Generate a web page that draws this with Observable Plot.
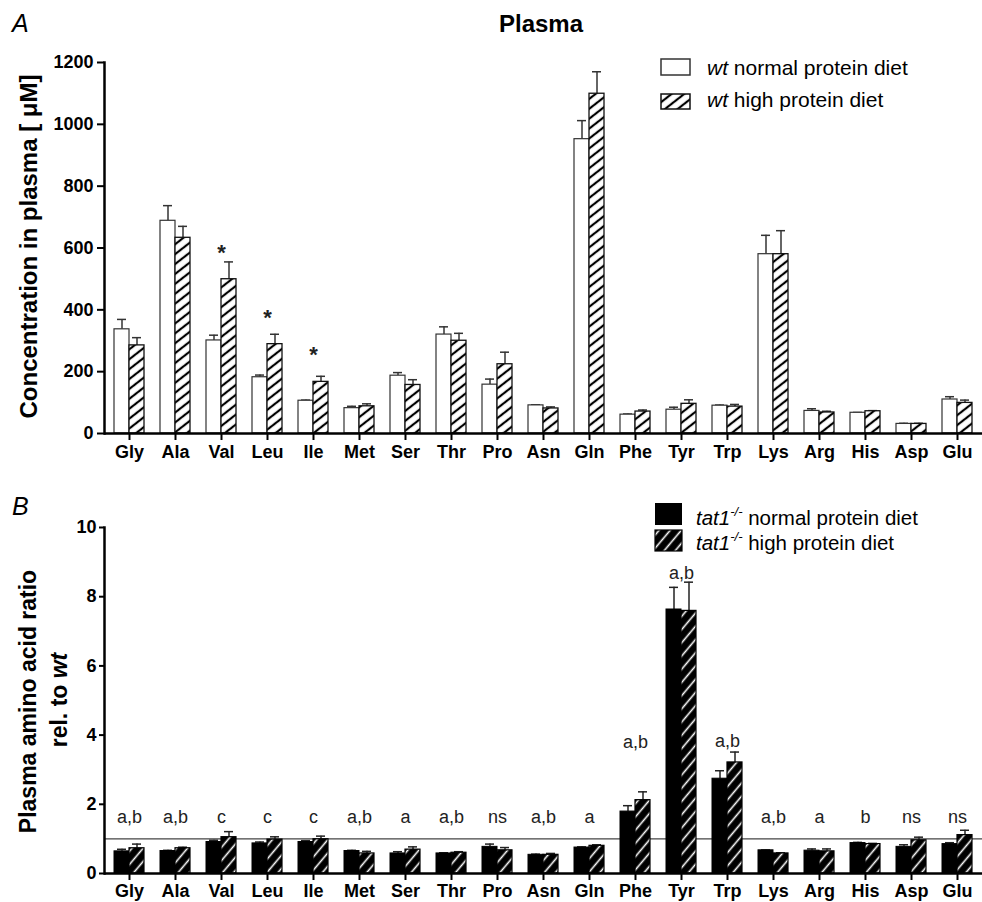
<!DOCTYPE html>
<html>
<head>
<meta charset="utf-8">
<script src="https://cdn.jsdelivr.net/npm/d3@7"></script>
<script src="https://cdn.jsdelivr.net/npm/@observablehq/plot@0.6"></script>
<style>
  html, body { margin: 0; padding: 0; background: #fff; }
  #wrap { position: relative; width: 982px; height: 902px; font-family: "Liberation Sans", Arial, sans-serif; }
  #panelA, #panelB { position: absolute; left: 0; }
  #panelA { top: 0; }
  #panelB { top: 470px; }
  #overlay { position: absolute; left: 0; top: 0; pointer-events: none; }
</style>
</head>
<body>
<svg width="0" height="0" style="position:absolute">
  <defs>
    <pattern id="hatchA" patternUnits="userSpaceOnUse" width="20" height="7.8" patternTransform="rotate(-38)">
      <rect width="20" height="7.8" fill="#fff"/>
      <line x1="0" y1="3.9" x2="20" y2="3.9" stroke="#000" stroke-width="2.2"/>
    </pattern>
    <pattern id="hatchB" patternUnits="userSpaceOnUse" width="20" height="8.5" patternTransform="rotate(-50)">
      <rect width="20" height="8.5" fill="#000"/>
      <line x1="0" y1="4.25" x2="20" y2="4.25" stroke="#fff" stroke-width="1.6"/>
    </pattern>
  </defs>
</svg>
<div id="wrap">
  <div id="panelA"></div>
  <div id="panelB"></div>
  <svg id="overlay" width="982" height="902" font-family="Liberation Sans, Arial, sans-serif">
    <text x="12" y="32" font-size="25" font-style="italic">A</text>
    <text x="541" y="32" font-size="24" font-weight="bold" text-anchor="middle">Plasma</text>
    <text transform="translate(37,246.5) rotate(-90)" font-size="24" font-weight="bold" text-anchor="middle">Concentration in plasma [ μM]</text>
    <rect x="661" y="59" width="29" height="16" fill="#fff" stroke="#333" stroke-width="1.5"/>
    <text x="707" y="75" font-size="21"><tspan font-style="italic">wt</tspan> normal protein diet</text>
    <rect x="661" y="94" width="29" height="15" fill="url(#hatchA)" stroke="#111" stroke-width="1.5"/>
    <text x="707" y="106.5" font-size="21"><tspan font-style="italic">wt</tspan> high protein diet</text>

    <text x="12" y="515" font-size="25" font-style="italic">B</text>
    <text transform="translate(36,701.5) rotate(-90)" font-size="23" font-weight="bold" text-anchor="middle">Plasma amino acid ratio</text>
    <text transform="translate(67,700) rotate(-90)" font-size="23" font-weight="bold" text-anchor="middle">rel. to <tspan font-style="italic">wt</tspan></text>
    <rect x="655" y="503" width="27" height="22" fill="#000"/>
    <text x="696" y="525" font-size="20.5"><tspan font-style="italic">tat1</tspan><tspan font-style="italic" font-size="13" dy="-9">-/-</tspan><tspan dy="9"> normal protein diet</tspan></text>
    <rect x="655" y="530" width="27" height="21" fill="url(#hatchB)" stroke="#000" stroke-width="1.2"/>
    <text x="696" y="550" font-size="20.5"><tspan font-style="italic">tat1</tspan><tspan font-style="italic" font-size="13" dy="-9">-/-</tspan><tspan dy="9"> high protein diet</tspan></text>
  </svg>
</div>
<script>
// ---------- data ----------
const aminoAcids = ["Gly","Ala","Val","Leu","Ile","Met","Ser","Thr","Pro","Asn","Gln","Phe","Tyr","Trp","Lys","Arg","His","Asp","Glu"];

// Panel A: plasma concentration (µM), mean and SEM
const wtNormalMean = [337, 688, 301, 182, 106, 82, 187, 320, 158, 91, 952, 61, 77, 90, 580, 73, 67, 31, 110];
const wtNormalSem  = [32, 49, 17, 7, 2, 6, 10, 25, 18, 2, 60, 2, 8, 2, 61, 7, 1, 2, 9];
const wtHighMean   = [285, 633, 499, 289, 167, 88, 157, 300, 224, 81, 1099, 71, 96, 87, 580, 68, 72, 31, 99];
const wtHighSem    = [25, 37, 56, 32, 18, 8, 17, 24, 39, 5, 71, 5, 13, 7, 76, 4, 2, 2, 9];
const starAcids  = ["Val", "Leu", "Ile"];
const starLevels = [603, 391, 272];
const yTicksA = [0, 200, 400, 600, 800, 1000, 1200];

// Panel B: ratio relative to wt, mean and SEM
const tatNormalMean = [0.64, 0.65, 0.91, 0.87, 0.91, 0.65, 0.58, 0.58, 0.77, 0.54, 0.75, 1.79, 7.63, 2.74, 0.67, 0.66, 0.88, 0.77, 0.85];
const tatNormalSem  = [0.06, 0.02, 0.05, 0.04, 0.04, 0.02, 0.05, 0.02, 0.08, 0.02, 0.02, 0.17, 0.64, 0.23, 0.01, 0.05, 0.02, 0.06, 0.04];
const tatHighMean   = [0.73, 0.73, 1.05, 0.98, 0.99, 0.58, 0.69, 0.60, 0.67, 0.54, 0.80, 2.12, 7.59, 3.21, 0.58, 0.64, 0.85, 0.96, 1.11];
const tatHighSem    = [0.12, 0.03, 0.16, 0.08, 0.09, 0.06, 0.08, 0.03, 0.08, 0.04, 0.03, 0.24, 0.83, 0.30, 0.02, 0.07, 0.02, 0.09, 0.14];
const sigLabels = ["a,b","a,b","c","c","c","a,b","a","a,b","ns","a,b","a","a,b","a,b","a,b","a,b","a","b","ns","ns"];
const sigLevels = [1.63,1.63,1.63,1.63,1.63,1.63,1.63,1.63,1.63,1.63,1.63,3.8,8.68,3.82,1.63,1.63,1.63,1.63,1.63];
const yTicksB = [0, 2, 4, 6, 8, 10];
const referenceLevel = [1];

// ---------- build rows ----------
const rows = (means, sems) => aminoAcids.map((aa, i) => ({aa, value: means[i], top: means[i] + sems[i]}));
const aN = rows(wtNormalMean, wtNormalSem);
const aH = rows(wtHighMean, wtHighSem);
const bN = rows(tatNormalMean, tatNormalSem);
const bH = rows(tatHighMean, tatHighSem);
const stars = starAcids.map((aa, i) => ({aa, y: starLevels[i]}));
const sig = aminoAcids.map((aa, i) => ({aa, y: sigLevels[i], label: sigLabels[i]}));

const font = "Liberation Sans, Arial, sans-serif";
const xScale = {domain: aminoAcids, paddingInner: 0.35, paddingOuter: 0.175, align: 0.5};
const plain = d => String(d);

function errorMarks(dataN, dataH, stroke) {
  return [
    Plot.ruleX(dataN, {x: "aa", y1: "value", y2: "top", dx: -7.5, stroke, strokeWidth: 1.5}),
    Plot.ruleX(dataH, {x: "aa", y1: "value", y2: "top", dx: 7.5, stroke, strokeWidth: 1.5}),
    Plot.tickY(dataN, {x: "aa", y: "top", insetLeft: 3, insetRight: 18, stroke, strokeWidth: 1.5}),
    Plot.tickY(dataH, {x: "aa", y: "top", insetLeft: 18, insetRight: 3, stroke, strokeWidth: 1.5})
  ];
}

const plotA = Plot.plot({
  width: 982, height: 470,
  marginLeft: 104, marginRight: 0, marginTop: 62, marginBottom: 37,
  style: {fontFamily: font, fontSize: "18px", color: "#000", background: "transparent"},
  x: xScale,
  y: {domain: [0, 1200]},
  marks: [
    ...errorMarks(aN, aH, "#333"),
    Plot.barY(aN, {x: "aa", y: "value", fill: "#fff", stroke: "#333", strokeWidth: 1.2, insetRight: 15}),
    Plot.barY(aH, {x: "aa", y: "value", fill: "url(#hatchA)", stroke: "#111", strokeWidth: 1.3, insetLeft: 15}),
    Plot.text(stars, {x: "aa", y: "y", text: () => "*", fontSize: 22, fontWeight: "bold", dy: 5.5, fill: "#222"}),
    Plot.axisY({ticks: yTicksA, tickFormat: plain, tickSize: 7, tickPadding: 4, fontSize: 18, fontWeight: "bold", label: null, strokeWidth: 2}),
    Plot.axisX({tickSize: 7, tickPadding: 5, fontSize: 18, fontWeight: "bold", label: null, strokeWidth: 2}),
    Plot.frame({anchor: "left", strokeWidth: 2.5}),
    Plot.ruleY([0], {strokeWidth: 2.5})
  ]
});
document.getElementById("panelA").append(plotA);

const plotB = Plot.plot({
  width: 982, height: 432,
  marginLeft: 104, marginRight: 0, marginTop: 57, marginBottom: 29,
  style: {fontFamily: font, fontSize: "18px", color: "#000", background: "transparent"},
  x: xScale,
  y: {domain: [0, 10]},
  marks: [
    Plot.ruleY(referenceLevel, {stroke: "#444", strokeWidth: 1.3}),
    ...errorMarks(bN, bH, "#222"),
    Plot.barY(bN, {x: "aa", y: "value", fill: "#000", stroke: "#000", strokeWidth: 1, insetRight: 15}),
    Plot.barY(bH, {x: "aa", y: "value", fill: "url(#hatchB)", stroke: "#000", strokeWidth: 1.2, insetLeft: 15}),
    Plot.text(sig, {x: "aa", y: "y", text: "label", fontSize: 18, fill: "#222"}),
    Plot.axisY({ticks: yTicksB, tickFormat: plain, tickSize: 5, tickPadding: 3, fontSize: 18, fontWeight: "bold", label: null, strokeWidth: 2}),
    Plot.axisX({tickSize: 7, tickPadding: 4, fontSize: 18, fontWeight: "bold", label: null, strokeWidth: 2}),
    Plot.frame({anchor: "left", strokeWidth: 2.5}),
    Plot.ruleY([0], {strokeWidth: 2.5})
  ]
});
document.getElementById("panelB").append(plotB);
</script>
</body>
</html>
